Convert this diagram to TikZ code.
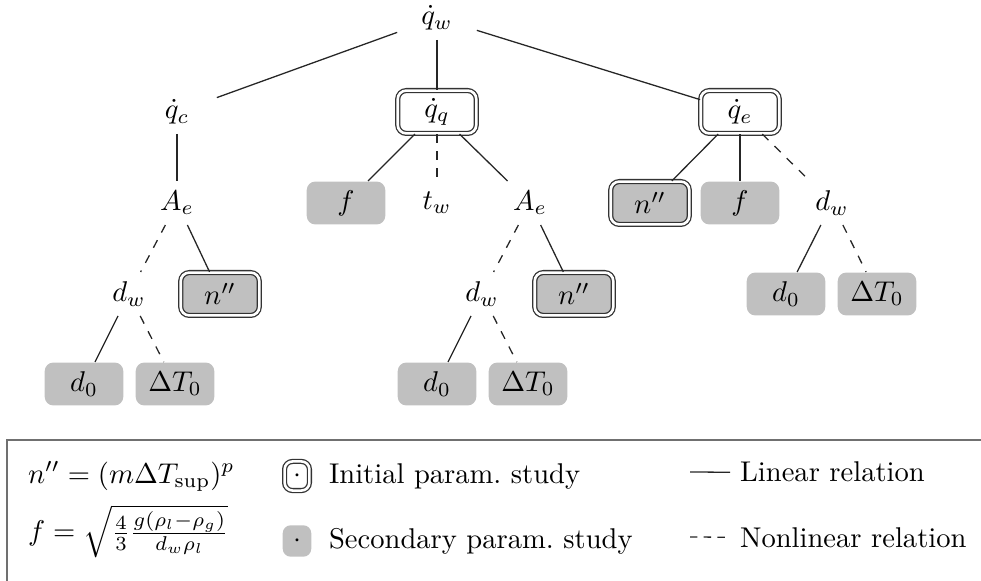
\documentclass[tikz,border=0pt]{standalone}
\usepackage{amsmath,amssymb}
\usepackage{xcolor}
\definecolor{boxgray}{HTML}{C0C0C0}
\definecolor{framegray}{HTML}{707070}
\usetikzlibrary{positioning}

\begin{document}
\begin{tikzpicture}[
		x=0.35pt,
		y=-0.35pt,
		param/.style={rectangle, rounded corners=3pt, minimum width=27.5pt, minimum height=15pt, inner sep=2pt},
		initbox/.style={param, draw=black!80, line width=0.45pt, double=white, double distance=0.9pt},
		secbox/.style={param, fill=boxgray},
		lin/.style={black!85, line width=0.45pt},
		nonlin/.style={lin, dashed}
	]
	\def\levA{18}
	\def\levB{112}
	\def\levC{203}
	\def\levD{294}
	\def\levE{384}

	\useasboundingbox (0,0) rectangle (981,581);

	% Root
	\node[param] (qw) at (437,\levA) {$\dot{q}_w$};

	% First level
	\node[param] (qc) at (177,\levB) {$\dot{q}_c$};
	\node[initbox] (qq) at (437,\levB) {$\dot{q}_q$};
	\node[initbox] (qe) at (740,\levB) {$\dot{q}_e$};

	% Second level
	\node[param] (Ae1) at (177,\levC) {$A_e$};
	\node[secbox] (f1) at (346,\levC) {$f$};
	\node[param] (tw) at (437,\levC) {$t_w$};
	\node[param] (Ae2) at (530,\levC) {$A_e$};
	\node[initbox, fill=boxgray] (n2) at (650,\levC) {$n''$};
	\node[secbox] (f2) at (740,\levC) {$f$};
	\node[param] (dw3) at (832,\levC) {$d_w$};

	% Third level
	\node[param] (dw1) at (129,\levD) {$d_w$};
	\node[initbox, fill=boxgray] (n1) at (220,\levD) {$n''$};
	\node[param] (dw2) at (482,\levD) {$d_w$};
	\node[initbox, fill=boxgray] (n3) at (574,\levD) {$n''$};
	\node[secbox] (d03) at (786,\levD) {$d_0$};
	\node[secbox] (dT3) at (877,\levD) {$\Delta T_0$};

	% Fourth level
	\node[secbox] (d01) at (84,\levE) {$d_0$};
	\node[secbox] (dT1) at (175,\levE) {$\Delta T_0$};
	\node[secbox] (d02) at (437,\levE) {$d_0$};
	\node[secbox] (dT2) at (528,\levE) {$\Delta T_0$};

	% Relations
	\draw[lin] (qw) -- (qc);
	\draw[lin] (qw) -- (qq);
	\draw[lin] (qw) -- (qe);

	\draw[lin] (qc) -- (Ae1);
	\draw[nonlin] (Ae1) -- (dw1);
	\draw[lin] (Ae1) -- (n1);
	\draw[lin] (dw1) -- (d01);
	\draw[nonlin] (dw1) -- (dT1);

	\draw[lin] (qq) -- (f1);
	\draw[nonlin] (qq) -- (tw);
	\draw[lin] (qq) -- (Ae2);
	\draw[nonlin] (Ae2) -- (dw2);
	\draw[lin] (Ae2) -- (n3);
	\draw[lin] (dw2) -- (d02);
	\draw[nonlin] (dw2) -- (dT2);

	\draw[lin] (qe) -- (n2);
	\draw[lin] (qe) -- (f2);
	\draw[nonlin] (qe) -- (dw3);
	\draw[lin] (dw3) -- (d03);
	\draw[nonlin] (dw3) -- (dT3);

	% Legend frame -- runs off the page at right and bottom
	\begin{scope}
		\clip (0,0) rectangle (981,581);
		\draw[framegray, line width=0.7pt] (7,440) rectangle (1000,600);
	\end{scope}

	% Legend: definitions
	\node[anchor=base west] (nEq) at (18,483) {$n'' = (m\Delta T_{\mathrm{sup}})^p$};
	\node[anchor=base west] (fEq) at (18,541) {$f = \sqrt{\frac{4}{3}\frac{g(\rho_l-\rho_g)}{d_w\rho_l}}$};

	% Legend: box kinds
	\node[initbox, minimum width=8.7pt, minimum height=10.2pt, inner sep=0pt, rounded corners=2.8pt] (keyInit) at (297,476) {$\cdot$};
	\node[anchor=base west] (initT) at (319,483) {Initial param.\ study};
	\node[secbox, minimum width=10pt, minimum height=11pt, inner sep=0pt, rounded corners=2.8pt] (keySec) at (297,541) {$\cdot$};
	\node[anchor=base west] (secT) at (319,548) {Secondary param.\ study};

	% Legend: line kinds
	\coordinate (linA) at (690,472);
	\coordinate (nonlinA) at (690,537);
	\node[anchor=base west] (linT) at (730,482) {Linear relation};
	\node[anchor=base west] (nonlinT) at (730,547) {Nonlinear relation};
	\draw[lin] (linA) -- (linT.west);
	\draw[lin, dash pattern=on 2.6pt off 2.2pt] (nonlinA) -- (nonlinT.west);
\end{tikzpicture}
\end{document}
